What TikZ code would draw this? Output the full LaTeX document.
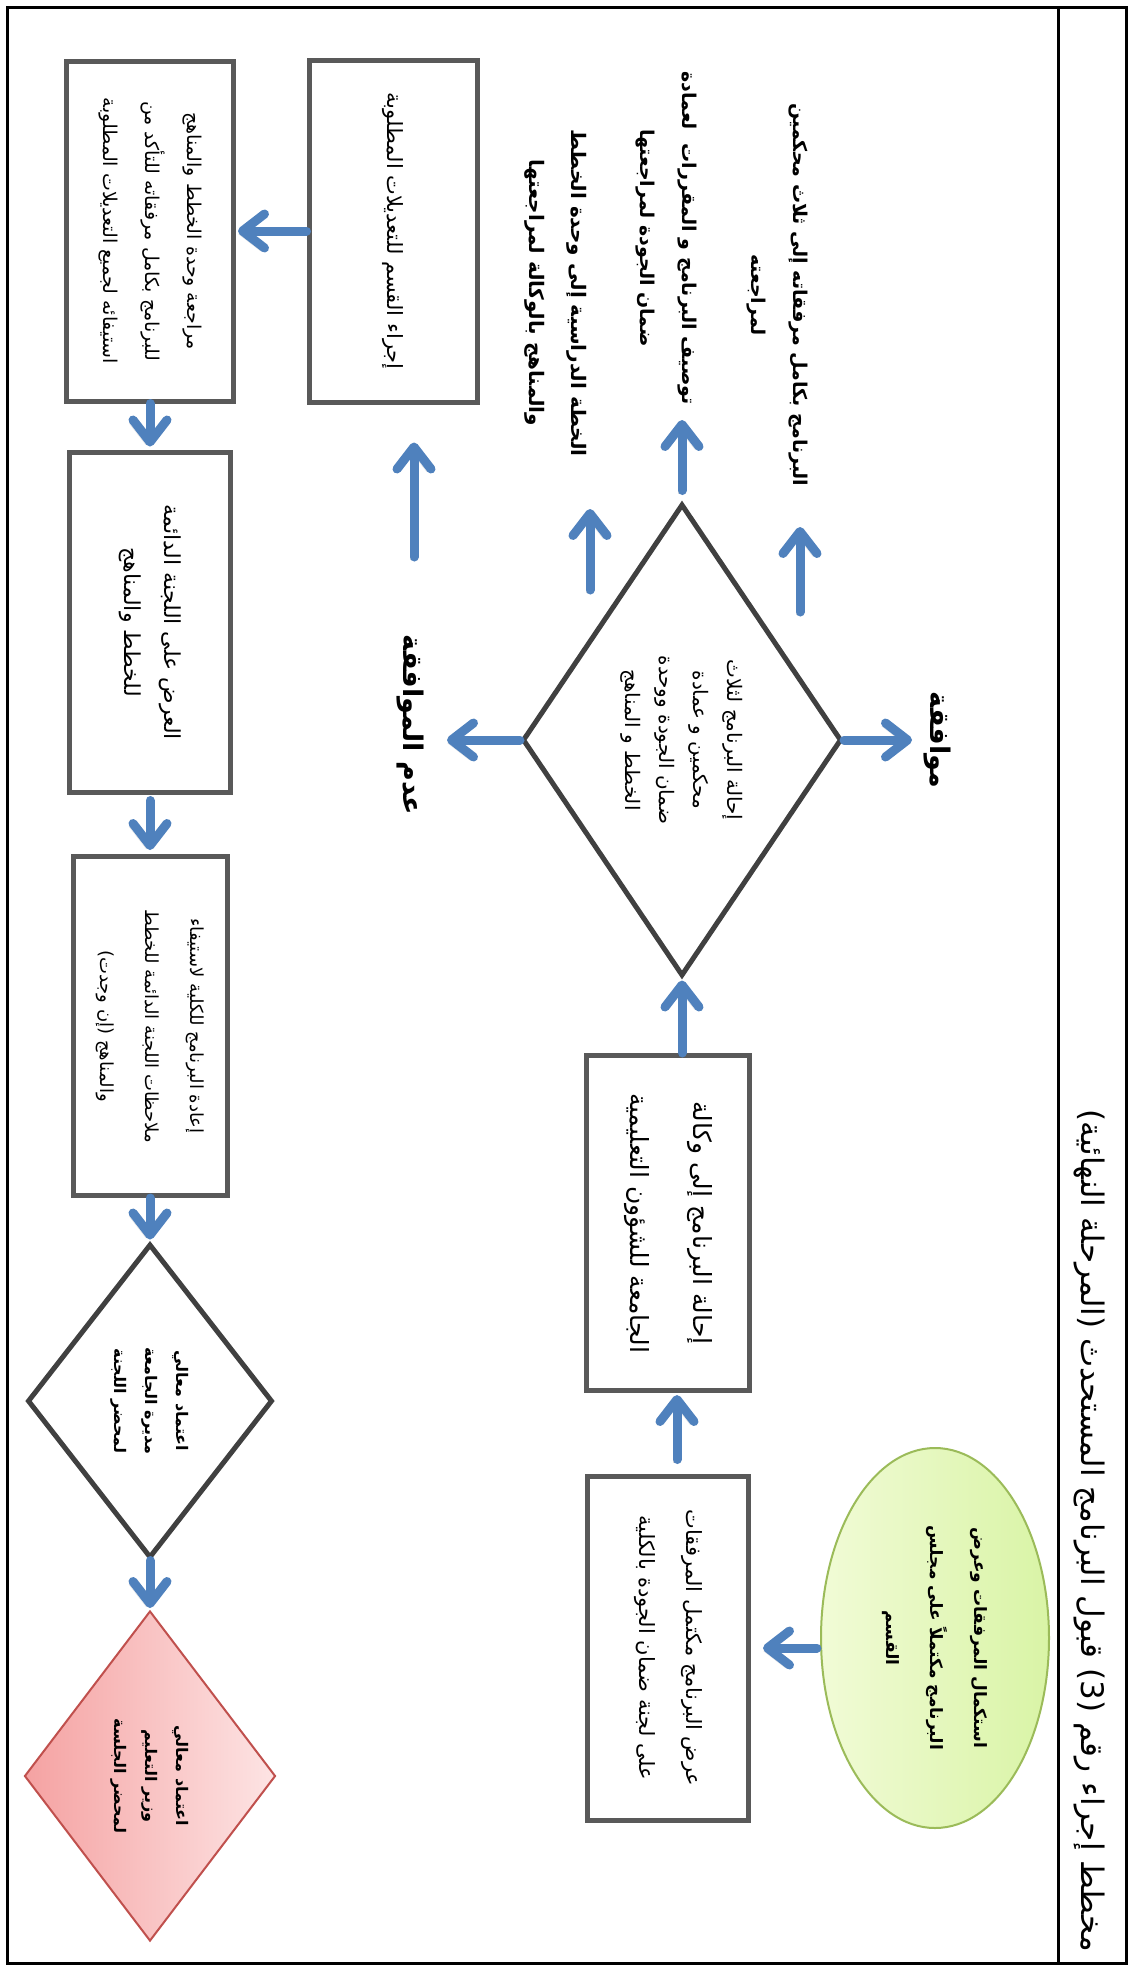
\documentclass[tikz,border=0pt]{standalone}
\usepackage{fontspec}
\usetikzlibrary{arrows.meta,shapes.geometric}
\TeXXeTstate=1
\newfontfamily\arabicfont[Script=Arabic]{DejaVu Sans}
\newcommand\rl[1]{\beginR #1\endR}
\definecolor{boxgray}{HTML}{595959}
\definecolor{diagray}{HTML}{404040}
\definecolor{arrowblue}{HTML}{4F81BD}
\definecolor{ellborder}{HTML}{9BBB59}
\definecolor{ellA}{HTML}{F1FBD6}
\definecolor{ellB}{HTML}{D9F4A6}
\definecolor{redA}{HTML}{F5A2A2}
\definecolor{redB}{HTML}{FDE4E4}
\definecolor{redborder}{HTML}{C0504D}
\begin{document}
\begin{tikzpicture}[x=1pt,y=-1pt,
  arr/.style={draw=arrowblue,line width=9pt,line cap=round,-{Straight Barb[round,length=22pt,width=34pt]},
    preaction={draw=black,draw opacity=0.12,transform canvas={xshift=-4pt,yshift=-3pt}}},
  box/.style={draw=boxgray,line width=5pt,fill=white,rotate=-90,align=center,inner sep=0pt},
  dia/.style={diamond,draw=diagray,line width=5pt,fill=white,rotate=-90,align=center,inner sep=0pt},
  lbl/.style={rotate=-90,align=center,inner sep=0pt}]
\useasboundingbox (0,0) rectangle (1132,1970);
\fill[white] (0,0) rectangle (1132,1970);
% frame
\draw[line width=3pt] (7,7) rectangle (1126,1963);
\draw[line width=3pt] (1058,7) -- (1058,1963);
\node[lbl,anchor=east,font={\arabicfont\fontsize{31}{38}\selectfont}] (title) at (1089,1952)
  {\rl{مخطط إجراء رقم (3) قبول البرنامج المستحدث (المرحلة النهائية)}};
% right column
\node[ellipse,draw=ellborder,line width=2pt,left color=ellA,right color=ellB,rotate=-90,align=center,inner sep=0pt,
  minimum width=380pt,minimum height=228pt,font={\arabicfont\bfseries\fontsize{17}{44}\selectfont}] (ell) at (935,1638)
  {\rl{استكمال المرفقات وعرض}\\\rl{البرنامج مكتملاً على مجلس}\\\rl{القسم}};
\node[box,minimum width=344pt,minimum height=161pt,font={\arabicfont\fontsize{21}{47}\selectfont}] (b1) at (668,1648)
  {\rl{عرض البرنامج مكتمل المرفقات}\\\rl{على لجنة ضمان الجودة بالكلية}};
\node[box,minimum width=335pt,minimum height=163pt,font={\arabicfont\fontsize{25}{63}\selectfont}] (b2) at (668,1223)
  {\rl{إحالة البرنامج إلى وكالة}\\\rl{الجامعة للشؤون التعليمية}};
\node[dia,minimum width=472pt,minimum height=319pt,font={\arabicfont\fontsize{20}{34}\selectfont}] (dia1) at (682,740)
  {\rl{إحالة البرنامج لثلاث}\\\rl{محكمين و عمادة}\\\rl{ضمان الجودة ووحدة}\\\rl{الخطط و المناهج}};
\node[lbl,font={\arabicfont\bfseries\fontsize{27}{34}\selectfont}] (yes) at (937,740) {\rl{موافقة}};
\node[lbl,font={\arabicfont\bfseries\fontsize{27}{34}\selectfont}] (no) at (410,725) {\rl{عدم الموافقة}};
\node[lbl,font={\arabicfont\bfseries\fontsize{19}{42}\selectfont}] (lblR) at (777,295)
  {\rl{البرنامج بكامل مرفقاته إلى ثلاث محكمين}\\\rl{لمراجعته}};
\node[lbl,font={\arabicfont\bfseries\fontsize{19}{42}\selectfont}] (lblM) at (666,238)
  {\rl{توصيف البرنامج و المقررات\hspace*{14pt}لعمادة}\\\rl{ضمان الجودة لمراجعتها}};
\node[lbl,font={\arabicfont\bfseries\fontsize{20}{42}\selectfont}] (lblL) at (556,293)
  {\rl{الخطة الدراسية إلى وحدة الخطط}\\\rl{والمناهج بالوكالة لمراجعتها}};
% middle / left
\node[box,minimum width=342pt,minimum height=168pt,font={\arabicfont\fontsize{21}{40}\selectfont}] (qsm) at (393,231)
  {\rl{إجراء القسم للتعديلات المطلوبة}};
\node[box,minimum width=340pt,minimum height=167pt,font={\arabicfont\fontsize{19}{42}\selectfont}] (mrj) at (150,231)
  {\rl{مراجعة وحدة الخطط والمناهج}\\\rl{للبرنامج بكامل مرفقاته للتأكد من}\\\rl{استيفائه لجميع التعديلات المطلوبة}};
\node[box,minimum width=340pt,minimum height=161pt,font={\arabicfont\fontsize{22}{40}\selectfont}] (ard) at (150,622)
  {\rl{العرض على اللجنة الدائمة}\\\rl{للخطط والمناهج}};
\node[box,minimum width=339pt,minimum height=154pt,font={\arabicfont\fontsize{18}{45}\selectfont}] (ied) at (150,1026)
  {\rl{إعادة البرنامج للكلية لاستيفاء}\\\rl{ملاحظات اللجنة الدائمة للخطط}\\\rl{والمناهج (إن وجدت)}};
\node[dia,minimum width=314pt,minimum height=245pt,font={\arabicfont\bfseries\fontsize{16}{31}\selectfont}] (dia2) at (150,1401)
  {\rl{اعتماد معالي}\\\rl{مديرة الجامعة}\\\rl{لمحضر اللجنة}};
\node[diamond,draw=redborder,line width=2pt,left color=redA,right color=redB,rotate=-90,align=center,inner sep=0pt,
  minimum width=330pt,minimum height=251pt,font={\arabicfont\bfseries\fontsize{16}{31}\selectfont}] (red) at (150,1776)
  {\rl{اعتماد معالي}\\\rl{وزير التعليم}\\\rl{لمحضر الجلسة}};
% free arrow ends
\coordinate (mtip) at (682,420);
\coordinate (rtail) at (800,612);
\coordinate (rtip) at (800,527);
\coordinate (ltail) at (590,590);
\coordinate (ltip) at (590,509);
\coordinate (a9) at (414,557);
% arrows
\draw[arr,shorten <=3pt,shorten >=12pt] (ell.south |- b1) -- (b1);
\draw[arr,shorten <=14pt,shorten >=2pt] ([xshift=9pt]b1.west) -- ([xshift=9pt]b2.east);
\draw[arr,shorten >=2pt] ([xshift=14pt]b2.west) -- (dia1.east);
\draw[arr,shorten >=25pt] (dia1.north) -- (yes |- dia1);
\draw[arr,shorten >=37pt] (dia1.south) -- (no |- dia1);
\draw[arr,shorten <=11pt] (dia1.west) -- (mtip);
\draw[arr] (rtail) -- (rtip);
\draw[arr] (ltail) -- (ltip);
\draw[arr,shorten >=38pt] (a9) -- (a9 |- qsm.east);
\draw[arr,shorten >=2pt] (qsm) -- (mrj);
\draw[arr,shorten >=3pt] (mrj.east) -- (ard.west);
\draw[arr,shorten <=6pt,shorten >=4pt] (ard.east) -- (ied.west);
\draw[arr,shorten >=2pt] (ied.east) -- (dia2.west);
\draw[arr,shorten >=2pt] (dia2.east) -- (red.west);
\end{tikzpicture}
\end{document}
